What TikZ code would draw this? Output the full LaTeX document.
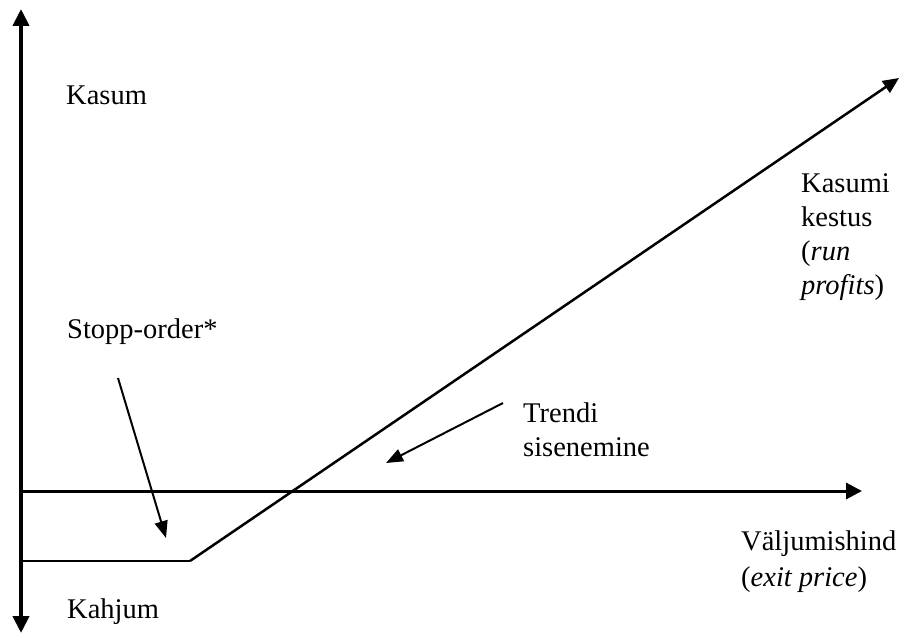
\documentclass[tikz,border=0pt]{standalone}
\usepackage{fontspec}
\setmainfont{Liberation Serif}
\usetikzlibrary{arrows.meta}
\begin{document}
\begin{tikzpicture}[x=1pt,y=-1pt,
  lbl/.style={anchor=base west,inner sep=0pt,font=\fontsize{28.5}{34}\selectfont},
  axis/.style={line width=4pt},
  bigtip/.style={-{Triangle[width=16pt,length=16pt]}},
  thin/.style={line width=2pt},
  smalltip/.style={-{Triangle[width=13pt,length=17pt]}}]
\useasboundingbox (0,0) rectangle (899,634);
% coordinates
\coordinate (ytop) at (21,9);
\coordinate (ybot) at (21,633);
\coordinate (xorig) at (19,491);
\coordinate (xend) at (862,491);
\coordinate (floorL) at (21,561);
\coordinate (kink) at (190,561);
\coordinate (lineEnd) at (899,78);
\coordinate (stopA) at (118,378);
\coordinate (stopB) at (166,538);
\coordinate (trA) at (503,403);
\coordinate (trB) at (386,463);
% axes
\draw[axis,{Triangle[width=16pt,length=17pt]}-{Triangle[width=16pt,length=17pt]}] (ybot) -- (ytop);
\draw[line width=3pt,bigtip] (xorig) -- (xend);
% payoff
\draw[line width=1.5pt] (floorL) -- (kink);
\draw[line width=2.5pt,-{Triangle[width=14pt,length=16pt]}] (kink) -- (lineEnd);
% pointers
\draw[thin,smalltip] (stopA) -- (stopB);
\draw[thin,smalltip] (trA) -- (trB);
% labels
\node[lbl] (kasum) at (66,104) {Kasum};
\node[lbl] (k1) at (801,192) {Kasumi};
\node[lbl] (k2) at (801,226) {kestus};
\node[lbl] (k3) at (801,260) {(\textit{run}};
\node[lbl] (k4) at (801,294) {\textit{profits})};
\node[lbl] (stopp) at (67,338) {Stopp-order*};
\node[lbl] (t1) at (523,422) {Trendi};
\node[lbl] (t2) at (523,456) {sisenemine};
\node[lbl] (v1) at (741,550) {Väljumishind};
\node[lbl] (v2) at (741,586) {(\textit{exit price})};
\node[lbl] (kahjum) at (67,618) {Kahjum};
\end{tikzpicture}
\end{document}
